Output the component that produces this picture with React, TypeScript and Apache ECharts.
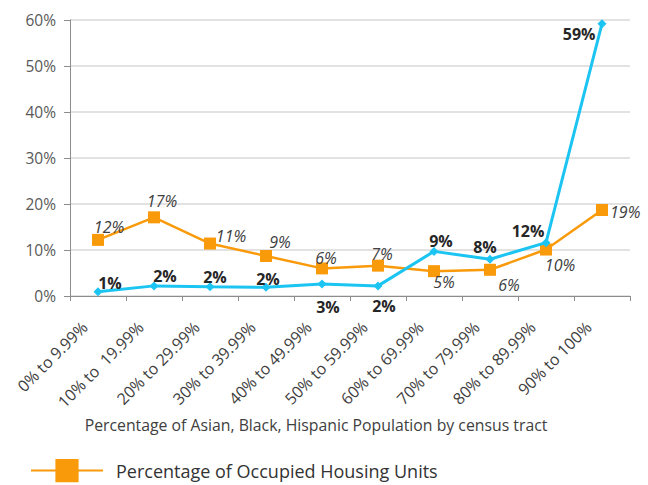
import React, { useEffect, useRef } from "react";
import * as echarts from "echarts";

const categories = [
  "0% to 9.99%",
  "10% to  19.99%",
  "20% to 29.99%",
  "30% to 39.99%",
  "40% to 49.99%",
  "50% to 59.99%",
  "60% to 69.99%",
  "70% to 79.99%",
  "80% to 89.99%",
  "90% to 100%",
];
const housingUnits = [12.2, 17.1, 11.4, 8.7, 6.0, 6.6, 5.4, 5.7, 10.1, 18.7];
const housingLabels = ["12%", "17%", "11%", "9%", "6%", "7%", "5%", "6%", "10%", "19%"];
const population = [0.9, 2.2, 2.0, 1.9, 2.6, 2.2, 9.7, 8.0, 11.6, 59.2];
const populationLabels = ["1%", "2%", "2%", "2%", "3%", "2%", "9%", "8%", "12%", "59%"];
const yTicks = [0, 10, 20, 30, 40, 50, 60];

const housingPos: [string, number[]][] = [
  ["top", [11, 3]], ["top", [8, 0]], ["top", [21, 8]], ["top", [14, 2]], ["top", [4, 6]],
  ["top", [4, 4]], ["bottom", [10, -5]], ["bottom", [19, -1]], ["bottom", [14, -1]], ["right", [0, 2]],
];
const popPos: [string, number[]][] = [
  ["top", [12, 6]], ["top", [11, 5]], ["top", [5, 5]], ["top", [2, 6]], ["bottom", [6, 8]],
  ["bottom", [6, 6]], ["top", [7, 4]], ["top", [-5, 2]], ["top", [-18, 3]], ["left", [0, 10]],
];

export default function App() {
  const ref = useRef<HTMLDivElement>(null);
  useEffect(() => {
    if (!ref.current) return;
    document.body.style.margin = "0";
    const chart = echarts.init(ref.current, null, { renderer: "svg" });
    const font = "'Open Sans', sans-serif";
    const orange = "#f99a0a";
    const cyan = "#1cc4f2";
    chart.setOption({
      animation: false,
      backgroundColor: "#ffffff",
      textStyle: { fontFamily: font },
      grid: { left: 70, right: 18, top: 20, bottom: 189, containLabel: false },
      legend: {
        data: ["Percentage of Occupied Housing Units"],
        left: 30,
        top: 459,
        padding: 0,
        itemWidth: 72,
        itemHeight: 29,
        itemGap: 10,
        textStyle: { fontSize: 18, color: "#333333", fontFamily: font, padding: [0, 0, 0, 8] },
      },
      xAxis: {
        type: "category",
        data: categories,
        boundaryGap: true,
        name: "Percentage of Asian, Black, Hispanic Population by census tract",
        nameLocation: "middle",
        nameGap: 119,
        nameTextStyle: {
          fontSize: 15.8,
          color: "#404040",
          fontFamily: font,
          padding: [0, 68, 0, 0],
        },
        axisLine: { lineStyle: { color: "#8c8c8c", width: 1 } },
        axisTick: { show: true, alignWithLabel: false, length: 5, lineStyle: { color: "#8c8c8c" } },
        axisLabel: {
          rotate: 45,
          interval: 0,
          margin: 15,
          padding: [0, 19, 0, 0],
          fontSize: 16,
          color: "#404040",
          fontFamily: font,
        },
      },
      yAxis: {
        type: "value",
        min: 0,
        max: 60,
        interval: 10,
        axisLine: { show: true, lineStyle: { color: "#8c8c8c", width: 1 } },
        axisTick: { show: true, length: 6, lineStyle: { color: "#8c8c8c" } },
        axisLabel: {
          margin: 14,
          fontSize: 15.5,
          color: "#595959",
          fontFamily: font,
          formatter: (v: number) => (yTicks.includes(v) ? `${v}%` : ""),
        },
        splitLine: { lineStyle: { color: "#d9d9d9", width: 1.5 } },
      },
      series: [
        {
          name: "Percentage of Asian, Black, Hispanic Population",
          type: "line",
          data: population.map((v, i) => ({
            value: v,
            label: {
              show: true,
              position: popPos[i][0],
              offset: popPos[i][1],
              formatter: populationLabels[i],
            },
          })),
          symbol: "diamond",
          symbolSize: 9,
          lineStyle: { color: cyan, width: 3 },
          itemStyle: { color: cyan },
          label: {
            fontSize: 16,
            fontWeight: "bold",
            color: "#262626",
            distance: 2,
            fontFamily: font,
          },
          z: 3,
        },
        {
          name: "Percentage of Occupied Housing Units",
          type: "line",
          data: housingUnits.map((v, i) => ({
            value: v,
            label: {
              show: true,
              position: housingPos[i][0],
              offset: housingPos[i][1],
              formatter: housingLabels[i],
            },
          })),
          symbol: "rect",
          symbolSize: 12,
          lineStyle: { color: orange, width: 2.5 },
          itemStyle: { color: orange },
          label: {
            fontSize: 16,
            fontStyle: "italic",
            color: "#404040",
            distance: 2,
            fontFamily: font,
          },
          z: 2,
        },
      ],
    });
    return () => chart.dispose();
  }, []);
  return <div ref={ref} style={{ width: 648, height: 485 }} />;
}
